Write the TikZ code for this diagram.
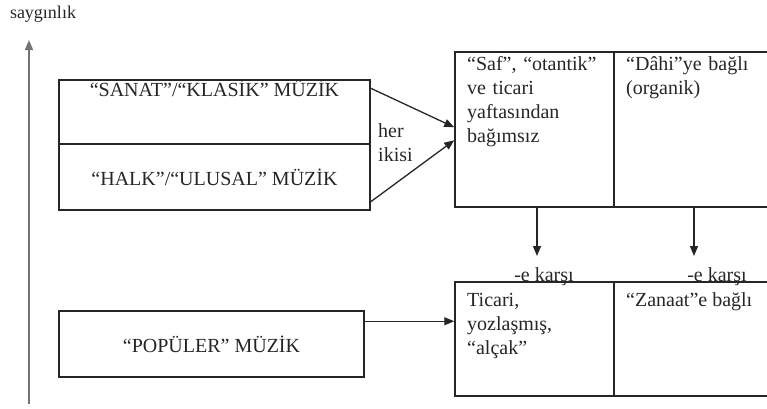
\documentclass[tikz,border=0pt]{standalone}
\usepackage{fontspec}
\setmainfont{Liberation Serif}
\usetikzlibrary{arrows.meta,positioning,calc}

\tikzset{
  musicbox/.style={draw=black!85, line width=1.5pt, inner sep=0pt},
  arr/.style={-{Triangle[length=10pt,width=8pt]}, line width=1.3pt, draw=black!85},
  axisarrow/.style={-{Triangle[length=10pt,width=8pt]}, line width=1.7pt, draw=black!55, fill=black!70},
}

\begin{document}
\begin{tikzpicture}[x=1pt,y=-1pt,
    every node/.style={font=\fontsize{20}{24}\selectfont, text=black!85}]
  \clip (0,0) rectangle (767,408);
  % dikey eksen
  \node (sayg) at (43,14) {\fontsize{18}{20}\selectfont saygınlık};
  \coordinate (axbot) at (29,404);
  \coordinate (axtop) at (29,40);
  \draw[axisarrow] (axbot) -- (axtop);
  % sol kutular
  \node[musicbox, minimum width=311pt, minimum height=64pt] (sanat) at (214.5,112) {};
  \node[anchor=north, inner sep=1pt] (sanatT) at (sanat.north) {“SANAT”/“KLASİK” MÜZİK};
  \node[musicbox, minimum width=311pt, minimum height=66pt] (halk) at (214.5,177) {“HALK”/“ULUSAL” MÜZİK};
  \node[musicbox, minimum width=305pt, minimum height=66pt] (popu) at (211.5,344) {“POPÜLER” MÜZİK};
  \node[align=left, anchor=west, inner sep=0pt] (ikisi) at (378,143) {her\\ikisi};
  % sag kutular
  \node[musicbox, minimum width=159pt, minimum height=155pt] (saf) at (534.5,129.5) {};
  \node[musicbox, minimum width=161pt, minimum height=155pt] (dahi) at (694.5,129.5) {};
  \node[musicbox, minimum width=159pt, minimum height=114pt] (ticari) at (534.5,339) {};
  \node[musicbox, minimum width=161pt, minimum height=114pt] (zanaat) at (694.5,339) {};
  \node[anchor=base west, text width=150pt, align=left, inner sep=0pt] (safT) at (467,70)
    {“Saf”, “otantik”\\ve ticari\\yaftasından\\bağımsız};
  \node[anchor=base west, text width=150pt, align=left, inner sep=0pt] (dahiT) at (626,70)
    {“Dâhi”ye bağlı\\(organik)};
  \node[anchor=base west, text width=140pt, align=left, inner sep=0pt] (ticariT) at (467,306)
    {Ticari,\\yozlaşmış,\\“alçak”};
  \node[anchor=base west, inner sep=0pt] (zanaatT) at (626,306) {“Zanaat”e bağlı};
  % -e karsi
  \node[anchor=base, inner sep=0pt] (karsiA) at (544,281) {-e karşı};
  \node[anchor=base, inner sep=0pt] (karsiB) at (717,281) {-e karşı};
  \coordinate (endA) at (537,256);
  \coordinate (endB) at (694,256);
  % oklar
  \draw[arr] ([yshift=-9pt]sanat.north east) -- ([yshift=-76pt]saf.north west);
  \draw[arr] ([yshift=9pt]halk.south east) -- ([yshift=-89pt]saf.north west);
  \draw[arr] ([yshift=-11pt]popu.north east) coordinate (p) -- (p -| ticari.west);
  \draw[arr] (saf.south -| endA) -- (endA);
  \draw[arr] (dahi.south -| endB) -- (endB);
\end{tikzpicture}
\end{document}
